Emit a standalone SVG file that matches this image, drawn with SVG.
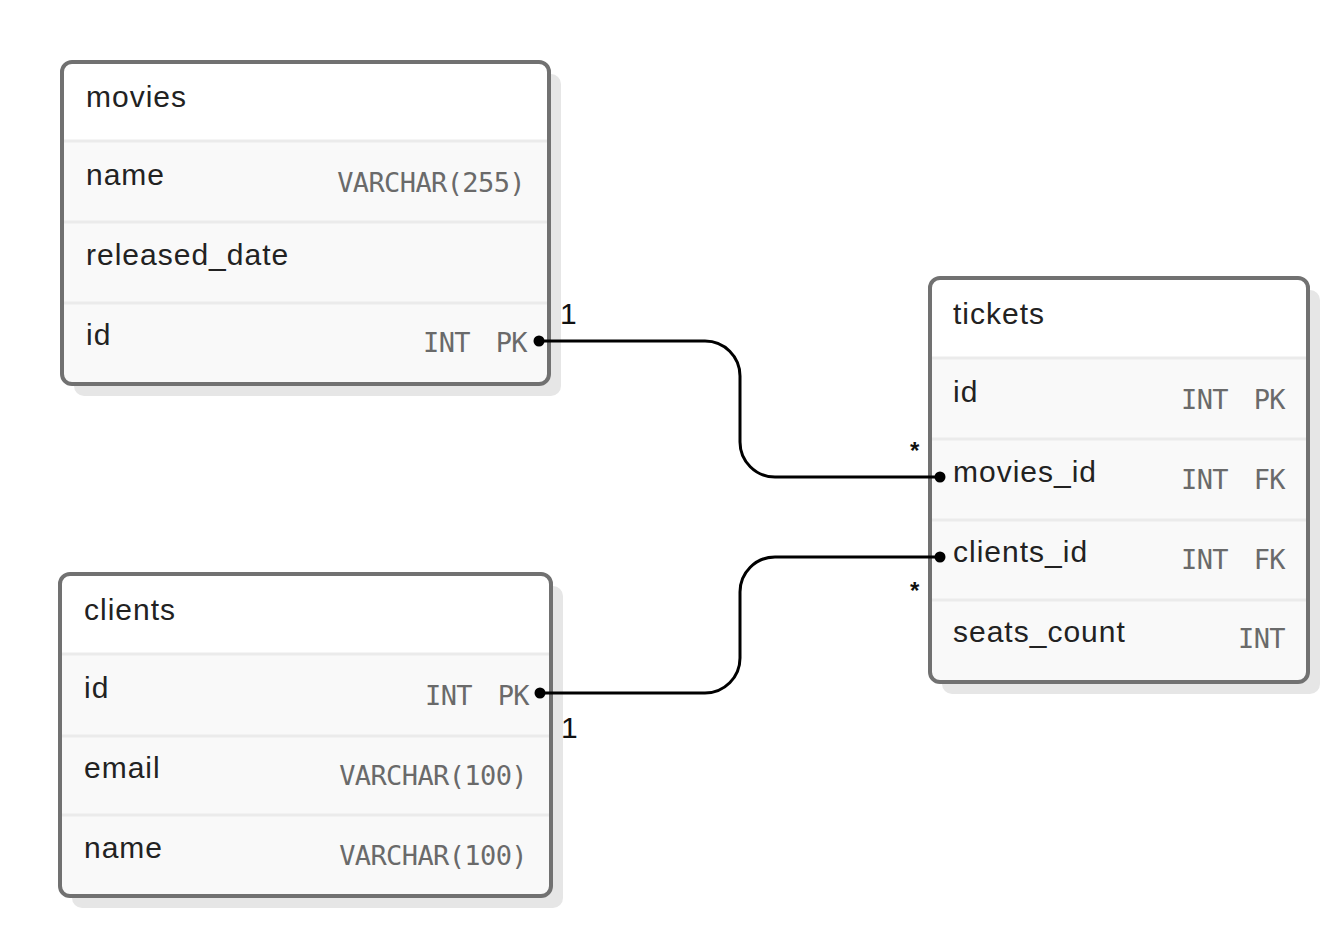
<svg xmlns="http://www.w3.org/2000/svg" width="1338" height="927" viewBox="0 0 1338 927">
<style>
.shadow{fill:#e6e6e6;}
.frame{fill:none;stroke:#717171;stroke-width:4;}
.hdr{fill:#ffffff;}
.row{fill:#f9f9f9;}
.div{stroke:#ebebeb;stroke-width:3;}
.nm{font-family:"Liberation Sans",Arial,sans-serif;font-size:30px;letter-spacing:1px;fill:#222222;}
.ty{font-family:"DejaVu Sans Mono",monospace;font-size:27px;letter-spacing:-0.6px;fill:#6a6a6a;}
.end{text-anchor:end;}
.edge{fill:none;stroke:#000000;stroke-width:3;}
.dot{fill:#000000;}
.card{font-family:"Liberation Sans",Arial,sans-serif;font-size:30px;fill:#111111;}
.star{font-family:"Liberation Sans",Arial,sans-serif;font-size:24px;font-weight:bold;fill:#111111;}
</style>
<rect width="1338" height="927" fill="#ffffff"/>

<g id="movies">
<rect class="shadow" x="74" y="74" width="487" height="322" rx="10"/>
<rect class="row" x="62" y="62" width="487" height="322" rx="10"/>
<path class="hdr" d="M72 62 H539 A10 10 0 0 1 549 72 V141 H62 V72 A10 10 0 0 1 72 62 Z"/>
<line class="div" x1="62" y1="141" x2="549" y2="141"/>
<line class="div" x1="62" y1="222" x2="549" y2="222"/>
<line class="div" x1="62" y1="303" x2="549" y2="303"/>
<rect class="frame" x="62" y="62" width="487" height="322" rx="10"/>
<text class="nm" x="86" y="107">movies</text>
<text class="nm" x="86" y="185">name</text>
<text class="ty end" x="525" y="192">VARCHAR(255)</text>
<text class="nm" x="86" y="265">released_date</text>
<text class="nm" x="86" y="345">id</text>
<text class="ty" x="423" y="352">INT</text>
<text class="ty end" x="527" y="352">PK</text>
</g>

<g id="tickets">
<rect class="shadow" x="942" y="290" width="378" height="404" rx="10"/>
<rect class="row" x="930" y="278" width="378" height="404" rx="10"/>
<path class="hdr" d="M940 278 H1298 A10 10 0 0 1 1308 288 V358 H930 V288 A10 10 0 0 1 940 278 Z"/>
<line class="div" x1="930" y1="358" x2="1308" y2="358"/>
<line class="div" x1="930" y1="439" x2="1308" y2="439"/>
<line class="div" x1="930" y1="520" x2="1308" y2="520"/>
<line class="div" x1="930" y1="600" x2="1308" y2="600"/>
<rect class="frame" x="930" y="278" width="378" height="404" rx="10"/>
<text class="nm" x="953" y="324">tickets</text>
<text class="nm" x="953" y="402">id</text>
<text class="ty" x="1181" y="409">INT</text>
<text class="ty end" x="1285" y="409">PK</text>
<text class="nm" x="953" y="482">movies_id</text>
<text class="ty" x="1181" y="489">INT</text>
<text class="ty end" x="1285" y="489">FK</text>
<text class="nm" x="953" y="562">clients_id</text>
<text class="ty" x="1181" y="569">INT</text>
<text class="ty end" x="1285" y="569">FK</text>
<text class="nm" x="953" y="642">seats_count</text>
<text class="ty end" x="1285" y="648">INT</text>
</g>

<g id="clients">
<rect class="shadow" x="72" y="586" width="491" height="322" rx="10"/>
<rect class="row" x="60" y="574" width="491" height="322" rx="10"/>
<path class="hdr" d="M70 574 H541 A10 10 0 0 1 551 584 V654 H60 V584 A10 10 0 0 1 70 574 Z"/>
<line class="div" x1="60" y1="654" x2="551" y2="654"/>
<line class="div" x1="60" y1="736" x2="551" y2="736"/>
<line class="div" x1="60" y1="815" x2="551" y2="815"/>
<rect class="frame" x="60" y="574" width="491" height="322" rx="10"/>
<text class="nm" x="84" y="620">clients</text>
<text class="nm" x="84" y="698">id</text>
<text class="ty" x="425" y="705">INT</text>
<text class="ty end" x="529" y="705">PK</text>
<text class="nm" x="84" y="778">email</text>
<text class="ty end" x="527" y="785">VARCHAR(100)</text>
<text class="nm" x="84" y="858">name</text>
<text class="ty end" x="527" y="865">VARCHAR(100)</text>
</g>

<g id="connectors">
<path class="edge" d="M539 341 H705 A35 35 0 0 1 740 376 V442 A35 35 0 0 0 775 477 H940"/>
<circle class="dot" cx="539" cy="341" r="5.5"/>
<circle class="dot" cx="940" cy="477" r="5.5"/>
<text class="card" x="560" y="324">1</text>
<text class="star" x="910" y="459">*</text>
<path class="edge" d="M540 693 H705 A35 35 0 0 0 740 658 V592 A35 35 0 0 1 775 557 H940"/>
<circle class="dot" cx="540" cy="693" r="5.5"/>
<circle class="dot" cx="940" cy="557" r="5.5"/>
<text class="card" x="561" y="738">1</text>
<text class="star" x="910" y="599">*</text>
</g>
</svg>
